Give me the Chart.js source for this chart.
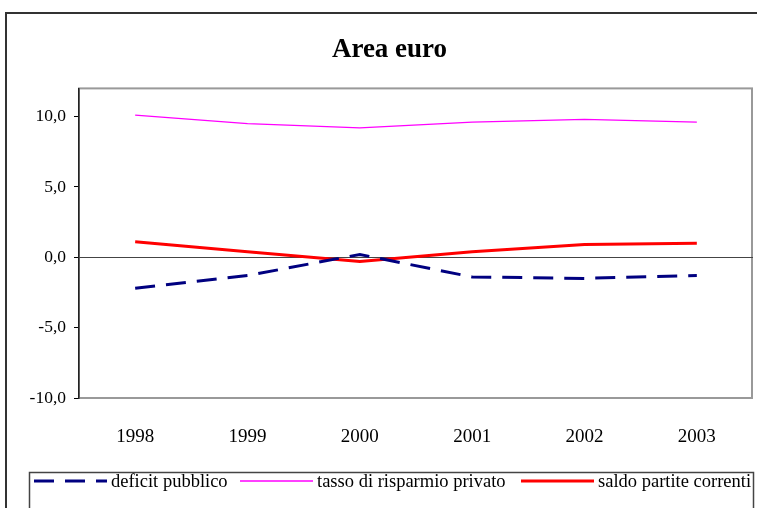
<!DOCTYPE html>
<html>
<head>
<meta charset="utf-8">
<title>Area euro</title>
<script src="https://cdn.jsdelivr.net/npm/chart.js@4.4.0/dist/chart.umd.min.js"></script>
<style>
  html, body { margin: 0; padding: 0; background: #fff; }
  #wrap { width: 757px; height: 508px; position: relative; }
</style>
</head>
<body>
<div id="wrap"><canvas id="chart"></canvas></div>
<script>
// dati
const anni = ['1998', '1999', '2000', '2001', '2002', '2003'];
const deficitPubblico = [-2.2, -1.3, 0.2, -1.4, -1.5, -1.3];
const risparmioPrivato = [10.1, 9.5, 9.2, 9.6, 9.8, 9.6];
const saldoCorrenti = [1.1, 0.4, -0.3, 0.4, 0.9, 1.0];
const tickY = [-10, -5, 0, 5, 10];

const fontSerif = "'Liberation Serif', 'Times New Roman', serif";

// cornice esterna, bordo area grafico e legenda disegnata a mano
const cornice = {
    id: 'cornice',
    beforeDraw(chart) {
        const ctx = chart.ctx;
        const a = chart.chartArea;
        ctx.save();
        ctx.fillStyle = '#fff';
        ctx.fillRect(0, 0, chart.width, chart.height);
        ctx.strokeStyle = '#333';
        ctx.lineWidth = 2;
        ctx.strokeRect(6, 13, 900, 700);
        ctx.strokeStyle = '#999';
        ctx.lineWidth = 2;
        ctx.strokeRect(a.left, a.top, a.right - a.left - 1, a.bottom - a.top);
        ctx.restore();
    },
    afterDraw(chart) {
        const ctx = chart.ctx;
        ctx.save();
        ctx.strokeStyle = '#444';
        ctx.lineWidth = 1.5;
        ctx.strokeRect(29.5, 472.5, 724, 80);

        const y = 481;
        const starts = [34, 240, 521];
        ctx.font = '18.5px ' + fontSerif;
        ctx.textBaseline = 'middle';
        ctx.fillStyle = '#000';
        chart.data.datasets.forEach(function(ds, i) {
            const x0 = starts[i];
            ctx.beginPath();
            ctx.strokeStyle = ds.borderColor;
            ctx.lineWidth = ds.borderWidth;
            ctx.setLineDash(ds.borderDash || []);
            ctx.moveTo(x0, y);
            ctx.lineTo(x0 + 73, y);
            ctx.stroke();
            ctx.setLineDash([]);
            ctx.fillText(ds.label, x0 + 77, y + 1);
        });
        ctx.restore();
    }
};

const ctx = document.getElementById('chart').getContext('2d');
new Chart(ctx, {
    type: 'line',
    data: {
        labels: anni,
        datasets: [
            {
                label: 'deficit pubblico',
                data: deficitPubblico,
                borderColor: '#000080',
                borderWidth: 3,
                borderDash: [20, 11],
                pointRadius: 0,
                tension: 0
            },
            {
                label: 'tasso di risparmio privato',
                data: risparmioPrivato,
                borderColor: '#FF00FF',
                borderWidth: 1.3,
                pointRadius: 0,
                tension: 0
            },
            {
                label: 'saldo partite correnti',
                data: saldoCorrenti,
                borderColor: '#FF0000',
                borderWidth: 3,
                pointRadius: 0,
                tension: 0
            }
        ]
    },
    options: {
        responsive: true,
        maintainAspectRatio: false,
        animation: false,
        layout: {
            padding: { left: 26, right: 4, top: 12, bottom: 0 }
        },
        plugins: {
            legend: { display: false },
            tooltip: { enabled: false },
            title: {
                display: true,
                text: 'Area euro',
                color: '#000',
                font: { family: fontSerif, size: 27, weight: 'bold' },
                padding: { top: 22, bottom: 22 }
            }
        },
        scales: {
            x: {
                offset: true,
                grid: { display: false },
                border: { display: false },
                ticks: {
                    color: '#000',
                    font: { family: fontSerif, size: 19 },
                    padding: 20,
                    maxRotation: 0
                },
                afterFit(scale) { scale.height = 110; }
            },
            y: {
                min: -10,
                max: 12,
                grid: {
                    color: c => (c.tick && c.tick.value === 0 ? '#444' : 'rgba(0,0,0,0)'),
                    tickColor: '#000',
                    tickLength: 5,
                    lineWidth: 1
                },
                border: { display: true, color: '#222', width: 1.5 },
                ticks: {
                    stepSize: 5,
                    color: '#000',
                    padding: 8,
                    font: { family: fontSerif, size: 17.5 },
                    callback: v => v.toFixed(1).replace('.', ',')
                },
                afterBuildTicks(scale) {
                    scale.ticks = tickY.map(v => ({ value: v }));
                },
                afterFit(scale) { scale.width = 53; }
            }
        }
    },
    plugins: [cornice]
});
</script>
</body>
</html>
